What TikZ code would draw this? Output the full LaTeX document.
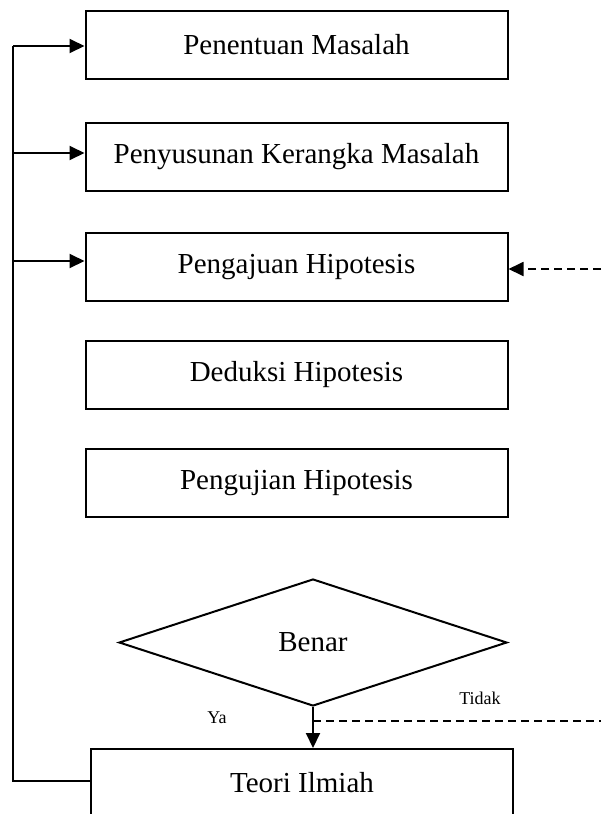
\documentclass[tikz,border=0pt]{standalone}
\usepackage{fontspec}
\setmainfont{Liberation Serif}
\usetikzlibrary{arrows.meta,shapes.geometric}
\begin{document}
\begin{tikzpicture}[x=0.5pt,y=-0.5pt,
  box/.style={draw,line width=1pt,minimum width=211pt,minimum height=34pt,inner sep=0pt,font=\fontsize{14.5}{17}\selectfont},
  link/.style={line width=1pt},
  arr/.style={link,-{Triangle[length=7.5pt,width=7pt]}},
  dline/.style={line width=0.9pt,dash pattern=on 4pt off 2.5pt},
  lbl/.style={font=\fontsize{9}{11}\selectfont,inner sep=0pt}]
\useasboundingbox (0,0) rectangle (601,814);
\clip (0,0) rectangle (601,814);
\node[box] (b1) at (296.5,45) {Penentuan Masalah};
\node[box] (b2) at (296.5,156.5) {Penyusunan Kerangka Masalah};
\node[box] (b3) at (296.5,267) {Pengajuan Hipotesis};
\node[box] (b4) at (296.5,375) {Deduksi Hipotesis};
\node[box] (b5) at (296.5,483) {Pengujian Hipotesis};
\node[draw,line width=1pt,diamond,minimum width=194pt,minimum height=63.5pt,inner sep=0pt,aspect=3.05,font=\fontsize{14.5}{17}\selectfont] (d) at (313,642.5) {Benar};
\node[box,minimum width=211pt] (t) at (302,783) {Teori Ilmiah};
% left feedback line
\coordinate (l1) at (13,46);
\coordinate (l2) at (13,153);
\coordinate (l3) at (13,261);
\coordinate (l4) at (13,781);
\draw[link] (l1) -- (l4) -- (l4 -| t.west);
\draw[arr] (l1) -- (l1 -| b1.west);
\draw[arr] (l2) -- (l2 -| b2.west);
\draw[arr] (l3) -- (l3 -| b3.west);
% right dashed input
\coordinate (rin) at (601,269);
\draw[dline,-{Triangle[length=7.5pt,width=7pt]}] (rin) -- (rin -| b3.east);
% yes arrow
\draw[arr] (d.south) -- (d.south |- t.north);
\coordinate (tj) at (313,721);
\coordinate (tout) at (601,721);
\draw[dline] (tj) -- (tout);
\node[lbl] (ya) at (217,718) {Ya};
\node[lbl] (tidak) at (480,698) {Tidak};
\end{tikzpicture}
\end{document}
